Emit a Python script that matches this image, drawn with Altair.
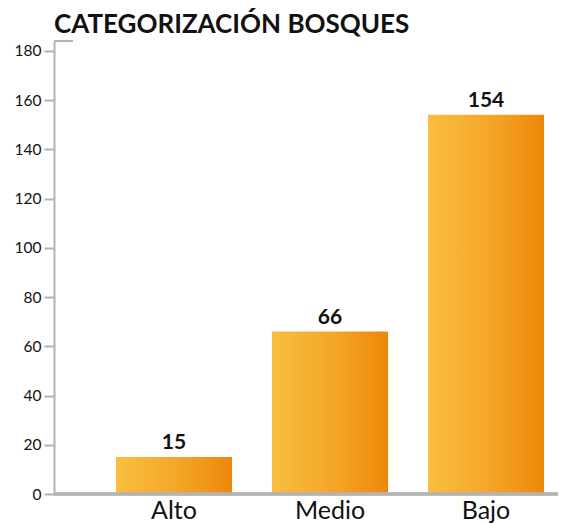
import altair as alt
import pandas as pd

categories = ["Alto", "Medio", "Bajo"]
values = [15, 66, 154]
y_ticks = [0, 20, 40, 60, 80, 100, 120, 140, 160, 180]
title_text = "CATEGORIZACIÓN BOSQUES"

df = pd.DataFrame({"cat": categories, "val": values})

FONT = "Lato"
AXIS_GRAY = "#B3B3B3"
W, H = 504, 453

x_enc = alt.X("cat:N", sort=categories, title=None,
              scale=alt.Scale(range=[42, 510], paddingInner=0.256, paddingOuter=0.128),
              axis=alt.Axis(domain=False, ticks=False, labelAngle=0, labelFont=FONT,
                            labelFontSize=25, labelColor="#111111", labelPadding=4))
y_enc = alt.Y("val:Q", title=None,
              scale=alt.Scale(domain=[0, 184], nice=False),
              axis=alt.Axis(values=y_ticks, grid=False, domainColor=AXIS_GRAY, domainWidth=2,
                            tickColor=AXIS_GRAY, tickWidth=2, tickSize=10,
                            labelFont=FONT, labelFontSize=15.5, labelColor="#111111",
                            labelPadding=3))

gradient = alt.Gradient(
    gradient="linear",
    stops=[alt.GradientStop(color="#F9BE40", offset=0),
           alt.GradientStop(color="#F4A526", offset=0.55),
           alt.GradientStop(color="#EE8709", offset=1)],
    x1=0, x2=1, y1=0, y2=0,
)

base = alt.Chart(df)
bars = base.mark_bar(color=gradient).encode(x=x_enc, y=y_enc)
labels = base.mark_text(font=FONT, fontSize=21, fontWeight="bold", color="#111111",
                        baseline="bottom", dy=-4).encode(
    x=alt.X("cat:N", sort=categories), y="val:Q", text="val:Q")

baseline = alt.Chart(df).mark_rule(color=AXIS_GRAY, strokeWidth=3).encode(
    x=alt.value(0), x2=alt.value(W + 20), y=alt.value(H))
topcap = alt.Chart(df).mark_rule(color=AXIS_GRAY, strokeWidth=2).encode(
    x=alt.value(0), x2=alt.value(19), y=alt.value(0))
title = alt.Chart(pd.DataFrame({"t": [title_text]})).mark_text(
    font=FONT, fontSize=26, fontWeight="bold", color="#111111",
    align="left", baseline="alphabetic").encode(
    x=alt.value(0), y=alt.value(-8), text="t:N")

chart = alt.layer(bars, labels, baseline, topcap, title).properties(
    width=W, height=H,
    autosize=alt.AutoSizeParams(type="none"),
    padding={"left": 46, "top": 33, "right": 0, "bottom": 40},
).configure_view(stroke=None)

chart.save("out.html", embed_options={"renderer": "svg", "actions": False})
